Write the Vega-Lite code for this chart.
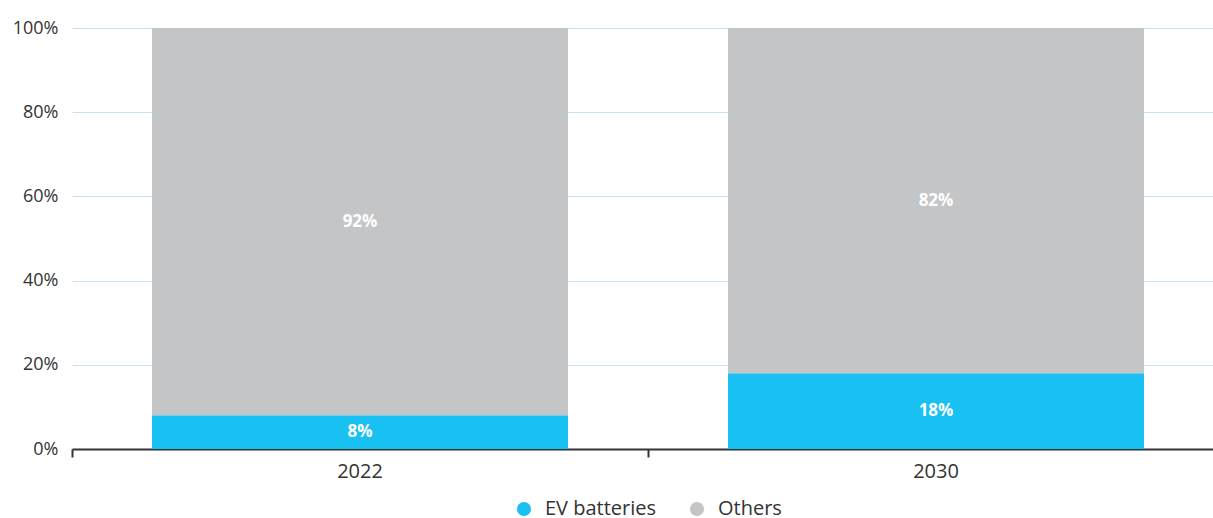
{
  "$schema": "https://vega.github.io/schema/vega-lite/v6.json",
  "autosize": {"type": "none"},
  "width": 1141,
  "height": 421,
  "padding": {"left": 72, "top": 28, "right": 0, "bottom": 69},
  "background": "#ffffff",
  "config": {
    "view": {"stroke": null},
    "font": "Open Sans"
  },
  "data": {
    "values": [
      {"year": "2022", "category": "EV batteries", "rank": 1, "value": 0.08, "label": "8%"},
      {"year": "2022", "category": "Others", "rank": 2, "value": 0.92, "label": "92%"},
      {"year": "2030", "category": "EV batteries", "rank": 1, "value": 0.18, "label": "18%"},
      {"year": "2030", "category": "Others", "rank": 2, "value": 0.82, "label": "82%"}
    ]
  },
  "transform": [
    {"stack": "value", "groupby": ["year"], "sort": [{"field": "rank", "order": "ascending"}], "as": ["v0", "v1"]},
    {"calculate": "(datum.v0 + datum.v1) / 2", "as": "vmid"}
  ],
  "encoding": {
    "x": {
      "field": "year",
      "type": "nominal",
      "scale": {"range": [0, 1152], "paddingInner": 0, "paddingOuter": 0},
      "axis": {
        "title": null,
        "labelAngle": 0,
        "labelFont": "Open Sans",
        "labelFontSize": 20,
        "labelColor": "#333333",
        "labelPadding": 4,
        "domainColor": "#333333",
        "domainWidth": 2,
        "tickColor": "#333333",
        "tickWidth": 2,
        "tickSize": 8,
        "bandPosition": 0,
        "grid": false
      }
    }
  },
  "layer": [
    {
      "mark": {"type": "bar", "width": {"band": 0.7222}},
      "encoding": {
        "y": {
          "field": "v0",
          "type": "quantitative",
          "scale": {"domain": [0, 1], "nice": false},
          "axis": {
            "title": null,
            "format": ".0%",
            "values": [0, 0.2, 0.4, 0.6, 0.8, 1],
            "labelFont": "Open Sans",
            "labelFontSize": 18,
            "labelColor": "#333333",
            "labelPadding": 14,
            "ticks": false,
            "domain": false,
            "grid": true,
            "gridColor": "#c2e4f5",
            "gridWidth": 1
          }
        },
        "y2": {"field": "v1"},
        "color": {
          "field": "category",
          "type": "nominal",
          "scale": {"domain": ["EV batteries", "Others"], "range": ["#18c1f1", "#c4c5c7"]},
          "legend": {
            "title": null,
            "orient": "none",
            "direction": "horizontal",
            "legendX": 442,
            "legendY": 471,
            "padding": 0,
            "symbolType": "circle",
            "symbolSize": 200,
            "symbolStrokeWidth": 0,
            "labelFont": "Open Sans",
            "labelFontSize": 20,
            "labelColor": "#333333",
            "labelOffset": 11,
            "columnPadding": 30,
            "labelLimit": 300
          }
        }
      }
    },
    {
      "mark": {"type": "text", "color": "#ffffff", "fontWeight": "bold", "fontSize": 17, "font": "Open Sans", "baseline": "middle", "align": "center"},
      "encoding": {
        "y": {"field": "vmid", "type": "quantitative"},
        "text": {"field": "label"}
      }
    }
  ]
}
